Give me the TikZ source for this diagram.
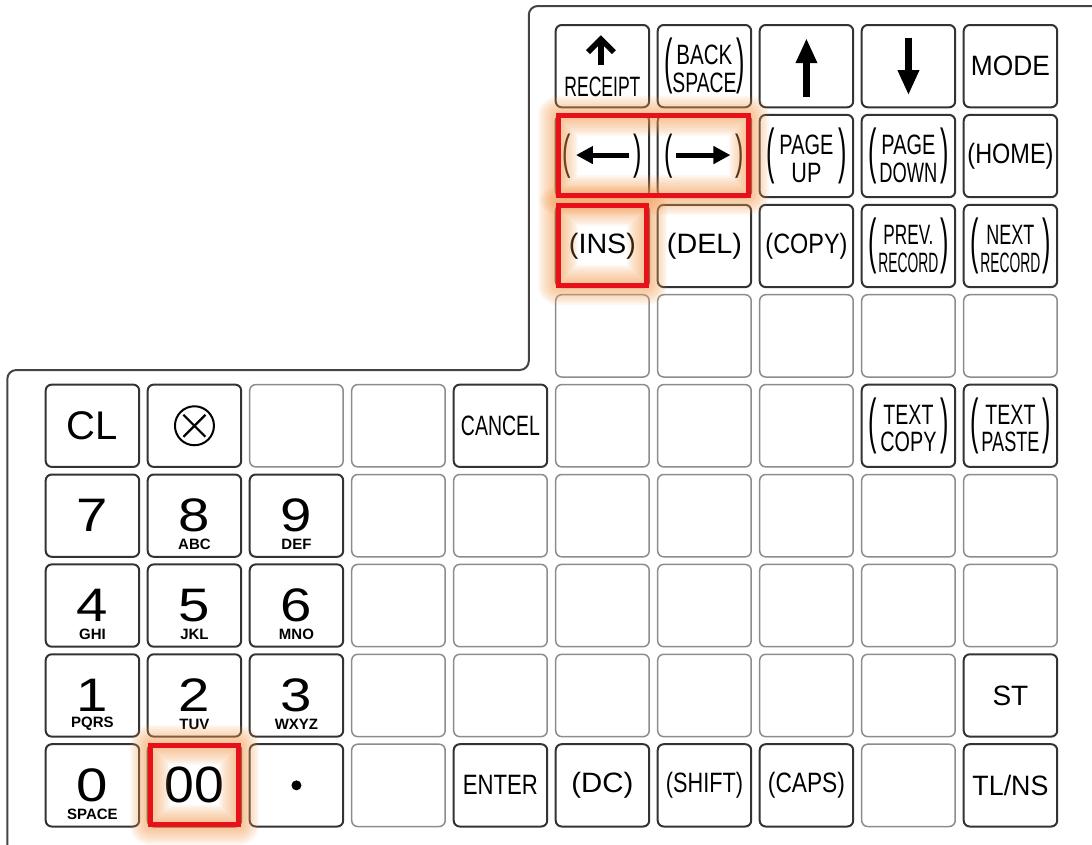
\documentclass[tikz,border=0pt]{standalone}
\usepackage{graphicx}
\usepackage{fontspec}
\setmainfont{Liberation Sans}
\usetikzlibrary{arrows.meta,calc}
\definecolor{keydark}{HTML}{333333}
\definecolor{keylight}{HTML}{8C8C8C}
\definecolor{casegray}{HTML}{444444}
\definecolor{hired}{HTML}{E8101A}
\definecolor{gloworange}{HTML}{F29A50}

\newcommand{\nw}[2]{\resizebox{#1}{\height}{#2}}
\newcommand{\tallp}[2]{$\vcenter{\hbox{\scalebox{0.9}[#1]{#2}}}$}
\newcommand{\pl}[4]{\makebox[80pt]{\tallp{2.15}{(}\hfill
  \raisebox{-6.8pt}[0pt][0pt]{\begin{tabular}{@{}c@{}}\nw{#1}{#2}\\\nw{#3}{#4}\end{tabular}}%
  \hfill\tallp{2.15}{)}}}
\newcommand{\arrowkey}{\makebox[79pt]{\tallp{1.7}{(}\hfill\tallp{1.7}{)}}}
\newcommand{\dg}[1]{\scalebox{1.2}[1]{#1}}

\begin{document}
\begin{tikzpicture}[x=1pt,y=-1pt,
  keycap/.style={draw=keydark,line width=2pt,rounded corners=6pt,
    minimum width=93.5pt,minimum height=82.3pt,inner sep=0pt,
    font=\fontsize{28}{27}\selectfont},
  blankcap/.style={keycap,draw=keylight,line width=1.5pt},
  digitcap/.style={keycap,font=\fontsize{47}{47}\selectfont},
  lbl/.style={font=\fontsize{28}{27}\selectfont,inner sep=0pt},
  sublbl/.style={font=\bfseries\fontsize{15}{15}\selectfont,inner sep=0pt,yshift=-28.5pt},
  caseline/.style={draw=casegray,line width=2pt,rounded corners=9pt},
  thinarrow/.style={line width=5pt,-{Triangle[length=17pt,width=17pt]}},
  bigarrow/.style={line width=7pt,-{Triangle[length=25pt,width=20pt]}},
  glowline/.style={draw=gloworange,opacity=0.085,line join=round},
  hibox/.style={draw=hired,line width=5pt}]
  \useasboundingbox (0,0) rectangle (1092,844);
  \draw[caseline] (7.3,870) -- (7.3,370) -- (528.8,370) -- (528.8,6) -- (1120,6);

  \foreach \c in {1,...,10}
    \foreach \r in {1,...,9}
      \coordinate (g-\c-\r) at ({102*\c-9.55},{89.9*\r-23.75});

  % upper block
  \node[keycap,label={[lbl,yshift=-21pt]center:\nw{76pt}{RECEIPT}}] (k-6-1) at (g-6-1) {};
  \node[keycap] (k-7-1) at (g-7-1) {\pl{56pt}{BACK}{64pt}{SPACE}};
  \node[keycap] (k-8-1) at (g-8-1) {};
  \node[keycap] (k-9-1) at (g-9-1) {};
  \node[keycap] (k-10-1) at (g-10-1) {\nw{79pt}{MODE}};
  \node[keycap] (k-6-2) at (g-6-2) {\arrowkey};
  \node[keycap] (k-7-2) at (g-7-2) {\arrowkey};
  \node[keycap] (k-8-2) at (g-8-2) {\pl{54pt}{PAGE}{30pt}{UP}};
  \node[keycap] (k-9-2) at (g-9-2) {\pl{54pt}{PAGE}{58pt}{DOWN}};
  \node[keycap] (k-10-2) at (g-10-2) {\nw{86pt}{(HOME)}};
  \node[keycap] (k-6-3) at (g-6-3) {\nw{67pt}{(INS)}};
  \node[keycap] (k-7-3) at (g-7-3) {\nw{75pt}{(DEL)}};
  \node[keycap] (k-8-3) at (g-8-3) {\nw{82pt}{(COPY)}};
  \node[keycap] (k-9-3) at (g-9-3) {\pl{50pt}{PREV.}{60pt}{RECORD}};
  \node[keycap] (k-10-3) at (g-10-3) {\pl{48pt}{NEXT}{60pt}{RECORD}};

  % lower block
  \node[keycap,font=\fontsize{40}{40}\selectfont] (k-1-5) at (g-1-5) {CL};
  \node[keycap] (k-2-5) at (g-2-5) {};
  \node[keycap] (k-5-5) at (g-5-5) {\nw{79pt}{CANCEL}};
  \node[keycap] (k-9-5) at (g-9-5) {\pl{50pt}{TEXT}{56pt}{COPY}};
  \node[keycap] (k-10-5) at (g-10-5) {\pl{50pt}{TEXT}{58pt}{PASTE}};
  \foreach \c/\r/\d/\s in {1/6/7/,2/6/8/ABC,3/6/9/DEF,1/7/4/GHI,2/7/5/JKL,3/7/6/MNO,
      1/8/1/PQRS,2/8/2/TUV,3/8/3/WXYZ,1/9/0/SPACE}
    \node[digitcap,label={[sublbl]center:\s}] (k-\c-\r) at (g-\c-\r) {\dg{\d}};
  \node[keycap] (k-10-8) at (g-10-8) {ST};
  \node[keycap,font=\fontsize{51}{51}\selectfont] (k-2-9) at (g-2-9) {\scalebox{1.05}[1]{00}};
  \node[keycap] (k-3-9) at (g-3-9) {};
  \node[keycap] (k-5-9) at (g-5-9) {\nw{75pt}{ENTER}};
  \node[keycap] (k-6-9) at (g-6-9) {\nw{62pt}{(DC)}};
  \node[keycap] (k-7-9) at (g-7-9) {\nw{77pt}{(SHIFT)}};
  \node[keycap] (k-8-9) at (g-8-9) {\nw{77pt}{(CAPS)}};
  \node[keycap] (k-10-9) at (g-10-9) {\nw{76pt}{TL/NS}};

  \foreach \c/\r in {6/4,7/4,8/4,9/4,10/4,3/5,4/5,6/5,7/5,8/5,
      4/8,5/8,6/8,7/8,8/8,9/8,4/9,9/9}
    \node[blankcap] (k-\c-\r) at (g-\c-\r) {};
  \foreach \r in {6,7}
    \foreach \c in {4,...,10}
      \node[blankcap] (k-\c-\r) at (g-\c-\r) {};

  % key symbols
  \draw[line width=2pt] (k-2-5) circle[radius=19.5pt];
  \draw[line width=2.2pt] ($(k-2-5)+(-11,-11)$) -- ($(k-2-5)+(11,11)$)
    ($(k-2-5)+(-11,11)$) -- ($(k-2-5)+(11,-11)$);
  \fill (k-3-9) circle[radius=5pt];
  \draw[line width=5.5pt] ($(k-6-1)+(-1.5,-1)$) -- ($(k-6-1)+(-1.5,-27)$);
  \draw[line width=5.5pt,line join=miter] ($(k-6-1)+(-14.5,-14)$) -- ($(k-6-1)+(-1.5,-27)$)
    -- ($(k-6-1)+(11.5,-14)$);
  \draw[bigarrow] ($(k-8-1)+(0,31)$) -- ($(k-8-1)+(0,-28)$);
  \draw[bigarrow] ($(k-9-1)+(0,-28.5)$) -- ($(k-9-1)+(0,29)$);
  \draw[thinarrow] ($(k-6-2)+(27,-1)$) -- ($(k-6-2)+(-26.5,-1)$);
  \draw[thinarrow] ($(k-7-2)+(-28,-1)$) -- ($(k-7-2)+(26,-1)$);

  % highlighted keys
  \foreach \a/\b in {k-6-2/k-7-2,k-6-3/k-6-3,k-2-9/k-2-9}
    \foreach \w in {40,36,...,8}
      \draw[glowline,line width=\w pt]
        ([shift={(3.5pt,-2pt)}]\a.north west) rectangle ([shift={(-3.5pt,3pt)}]\b.south east);
  \foreach \a/\b in {k-6-2/k-7-2,k-6-3/k-6-3,k-2-9/k-2-9}
    \draw[hibox] ([shift={(3.5pt,-2pt)}]\a.north west) rectangle ([shift={(-3.5pt,3pt)}]\b.south east);
\end{tikzpicture}
\end{document}
